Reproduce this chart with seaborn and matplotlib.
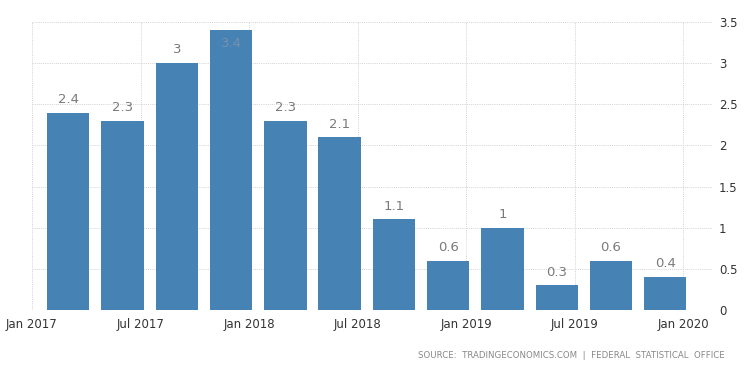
import matplotlib
matplotlib.use("Agg")
import matplotlib.pyplot as plt
import seaborn as sns
import pandas as pd

quarters = ["2017Q1", "2017Q2", "2017Q3", "2017Q4", "2018Q1", "2018Q2",
            "2018Q3", "2018Q4", "2019Q1", "2019Q2", "2019Q3", "2019Q4"]
values = [2.4, 2.3, 3.0, 3.4, 2.3, 2.1, 1.1, 0.6, 1.0, 0.3, 0.6, 0.4]
value_labels = ["2.4", "2.3", "3", "3.4", "2.3", "2.1", "1.1", "0.6", "1", "0.3", "0.6", "0.4"]
tick_labels = ["Jan 2017", "Jul 2017", "Jan 2018", "Jul 2018", "Jan 2019", "Jul 2019", "Jan 2020"]
y_ticks = [0, 0.5, 1, 1.5, 2, 2.5, 3, 3.5]
y_tick_labels = ["0", "0.5", "1", "1.5", "2", "2.5", "3", "3.5"]

df = pd.DataFrame({"quarter": quarters, "value": values})

sns.set_style("white")
plt.rcParams["font.family"] = ["DejaVu Sans"]

fig = plt.figure(figsize=(7.5, 3.73), dpi=100)
ax = fig.add_axes([32 / 750, 1 - 310 / 373, (712 - 32) / 750, (310 - 22) / 373])

sns.barplot(data=df, x="quarter", y="value", color="#4682b4", saturation=1,
            width=0.78, linewidth=0, edgecolor="none", ax=ax, zorder=3)

ax.set_ylim(0, 3.5)
ax.set_xlim(-0.663, 11.86)
ax.set_xlabel("")
ax.set_ylabel("")

# x ticks at half-year boundaries
xt = [-0.667 + 2 * k for k in range(len(tick_labels))]
ax.set_xticks(xt)
ax.set_xticklabels(tick_labels, fontsize=8.5, color="#333333")
ax.set_yticks(y_ticks)
ax.set_yticklabels(y_tick_labels, fontsize=8.5, color="#333333")
ax.yaxis.tick_right()
ax.tick_params(axis="y", length=0, pad=5)
ax.tick_params(axis="x", length=0, pad=6)
for lab in ax.get_yticklabels():
    lab.set_horizontalalignment("left")

ax.grid(True, axis="both", color="#d2d2d2", linestyle=(0, (1, 1.2)), linewidth=0.7, zorder=0)
for s in ax.spines.values():
    s.set_visible(False)

for i, (v, lab) in enumerate(zip(values, value_labels)):
    if v + 0.3 > 3.5:
        ax.text(i, v - 0.16, lab, ha="center", va="center", fontsize=9.5,
                color="#7590ad", zorder=4)
    else:
        ax.text(i, v + 0.16, lab, ha="center", va="center", fontsize=9.5,
                color="#7a7a7a", zorder=4)

fig.text(725 / 750, 1 - 355 / 373, "SOURCE:  TRADINGECONOMICS.COM  |  FEDERAL  STATISTICAL  OFFICE",
         ha="right", va="center", fontsize=6.2, color="#888888")

fig.savefig("out.png", dpi=100)
